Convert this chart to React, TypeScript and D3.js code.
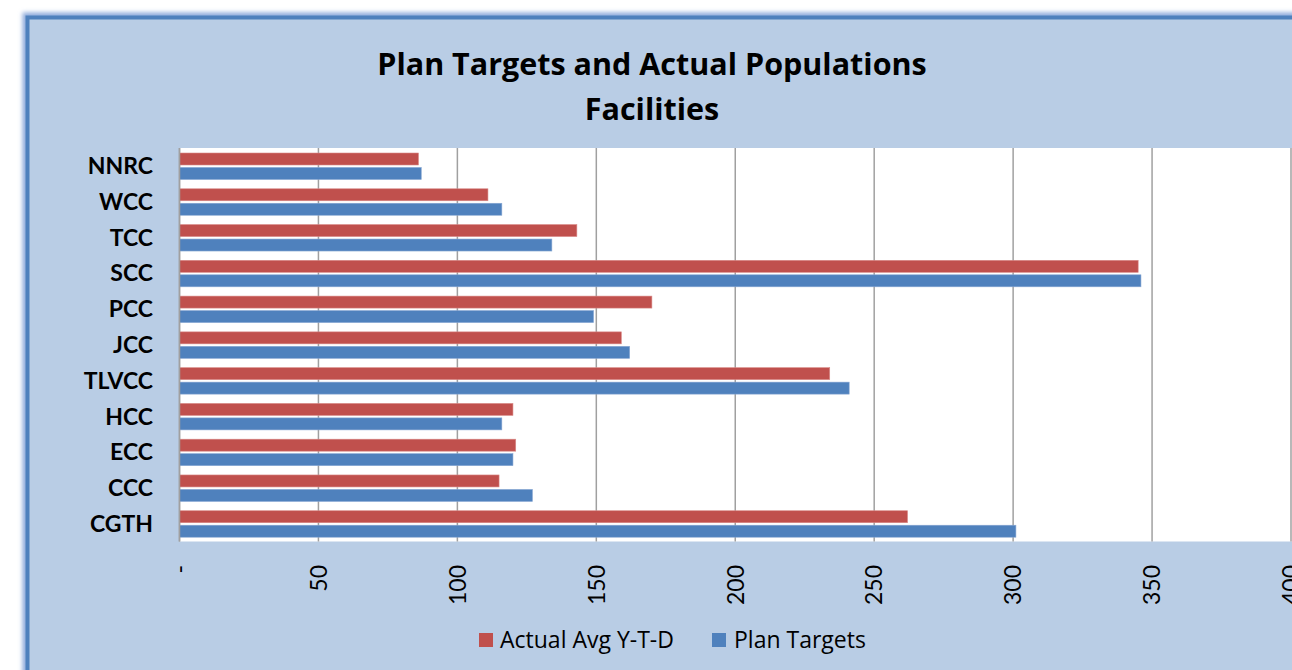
import React from "react";
import * as d3 from "d3";

const categories = ["NNRC", "WCC", "TCC", "SCC", "PCC", "JCC", "TLVCC", "HCC", "ECC", "CCC", "CGTH"];
const actualAvgYTD = [86, 111, 143, 345, 170, 159, 234, 120, 121, 115, 262];
const planTargets = [87, 116, 134, 346, 149, 162, 241, 116, 120, 127, 301];
const xTicks = [0, 50, 100, 150, 200, 250, 300, 350, 400];
const seriesNames = ["Actual Avg Y-T-D", "Plan Targets"];
const titleLines = ["Plan Targets and Actual Populations", "Facilities"];

const W = 1292;
const H = 670;
const RED = "#C0504D";
const BLUE = "#4F81BD";
const BG = "#B9CDE5";
const FONT = "Lato, 'Open Sans', sans-serif";
const WIDE = "'Open Sans', Lato, sans-serif";

export default function App() {
  const x = d3.scaleLinear().domain([0, 400]).range([179.5, 1291]);
  const y = d3.scaleBand<string>().domain(categories).range([148, 541.5]).padding(0);
  const bw = y.bandwidth();
  const plotTop = 148;
  const plotBottom = 541.5;

  const fmt = (v: number) => (v === 0 ? "-" : String(v));

  return (
    <svg
      width={W}
      height={H}
      style={{ position: "absolute", left: 0, top: 0, display: "block" }}
      fontFamily={FONT}
    >
      <defs>
        <filter id="glow" x="-5%" y="-5%" width="110%" height="110%">
          <feGaussianBlur stdDeviation="2" />
        </filter>
      </defs>
      <rect x={0} y={0} width={W} height={H} fill="#FFFFFF" />
      <rect x={26} y={16} width={W + 40} height={H + 40} fill="none" stroke="#8EAADB" strokeWidth={7} filter="url(#glow)" />
      <rect x={27.5} y={17.5} width={W + 40} height={H + 40} fill={BG} stroke={BLUE} strokeWidth={4} />

      {/* title */}
      <text x={652} y={75} textAnchor="middle" fontSize={30.5} fontWeight={700} fill="#000" fontFamily={WIDE}>
        {titleLines[0]}
      </text>
      <text x={652} y={120} textAnchor="middle" fontSize={30.5} fontWeight={700} fill="#000" fontFamily={WIDE}>
        {titleLines[1]}
      </text>

      {/* plot area */}
      <rect x={x(0)} y={plotTop} width={W - x(0)} height={plotBottom - plotTop} fill="#FFFFFF" />

      {/* gridlines */}
      {xTicks.map((t) => (
        <line key={"g" + t} x1={x(t)} x2={x(t)} y1={plotTop} y2={plotBottom} stroke="#A0A0A0" strokeWidth={1.5} />
      ))}

      {/* bars */}
      {categories.map((c, i) => {
        const y0 = y(c) as number;
        return (
          <g key={c}>
            <rect x={x(0)} y={y0 + bw * 0.14} width={x(actualAvgYTD[i]) - x(0)} height={bw * 0.335} fill={RED} stroke="#D98A88" strokeWidth={0.6} />
            <rect x={x(0)} y={y0 + bw * 0.545} width={x(planTargets[i]) - x(0)} height={bw * 0.335} fill={BLUE} stroke="#86A6D2" strokeWidth={0.6} />
          </g>
        );
      })}

      {/* axis line */}
      <line x1={x(0)} x2={x(0)} y1={plotTop} y2={plotBottom} stroke="#A0A0A0" strokeWidth={1.5} />

      {/* category labels */}
      {categories.map((c) => (
        <text key={"l" + c} x={153} y={(y(c) as number) + bw / 2} dy="0.36em" textAnchor="end" fontSize={23} fontWeight={700} fill="#000">
          {c}
        </text>
      ))}

      {/* x tick labels */}
      {xTicks.map((t) => (
        <text key={"t" + t} transform={`translate(${x(t)},565) rotate(-90)`} dy="0.36em" textAnchor="end" fontSize={23} fill="#000">
          {fmt(t)}
        </text>
      ))}

      {/* legend */}
      <rect x={479} y={633} width={14} height={14} fill={RED} />
      <text x={500} y={648} fontSize={23} fill="#000" fontFamily={WIDE}>
        {seriesNames[0]}
      </text>
      <rect x={712} y={633} width={14} height={14} fill={BLUE} />
      <text x={734} y={648} fontSize={23} fill="#000" fontFamily={WIDE}>
        {seriesNames[1]}
      </text>
    </svg>
  );
}
